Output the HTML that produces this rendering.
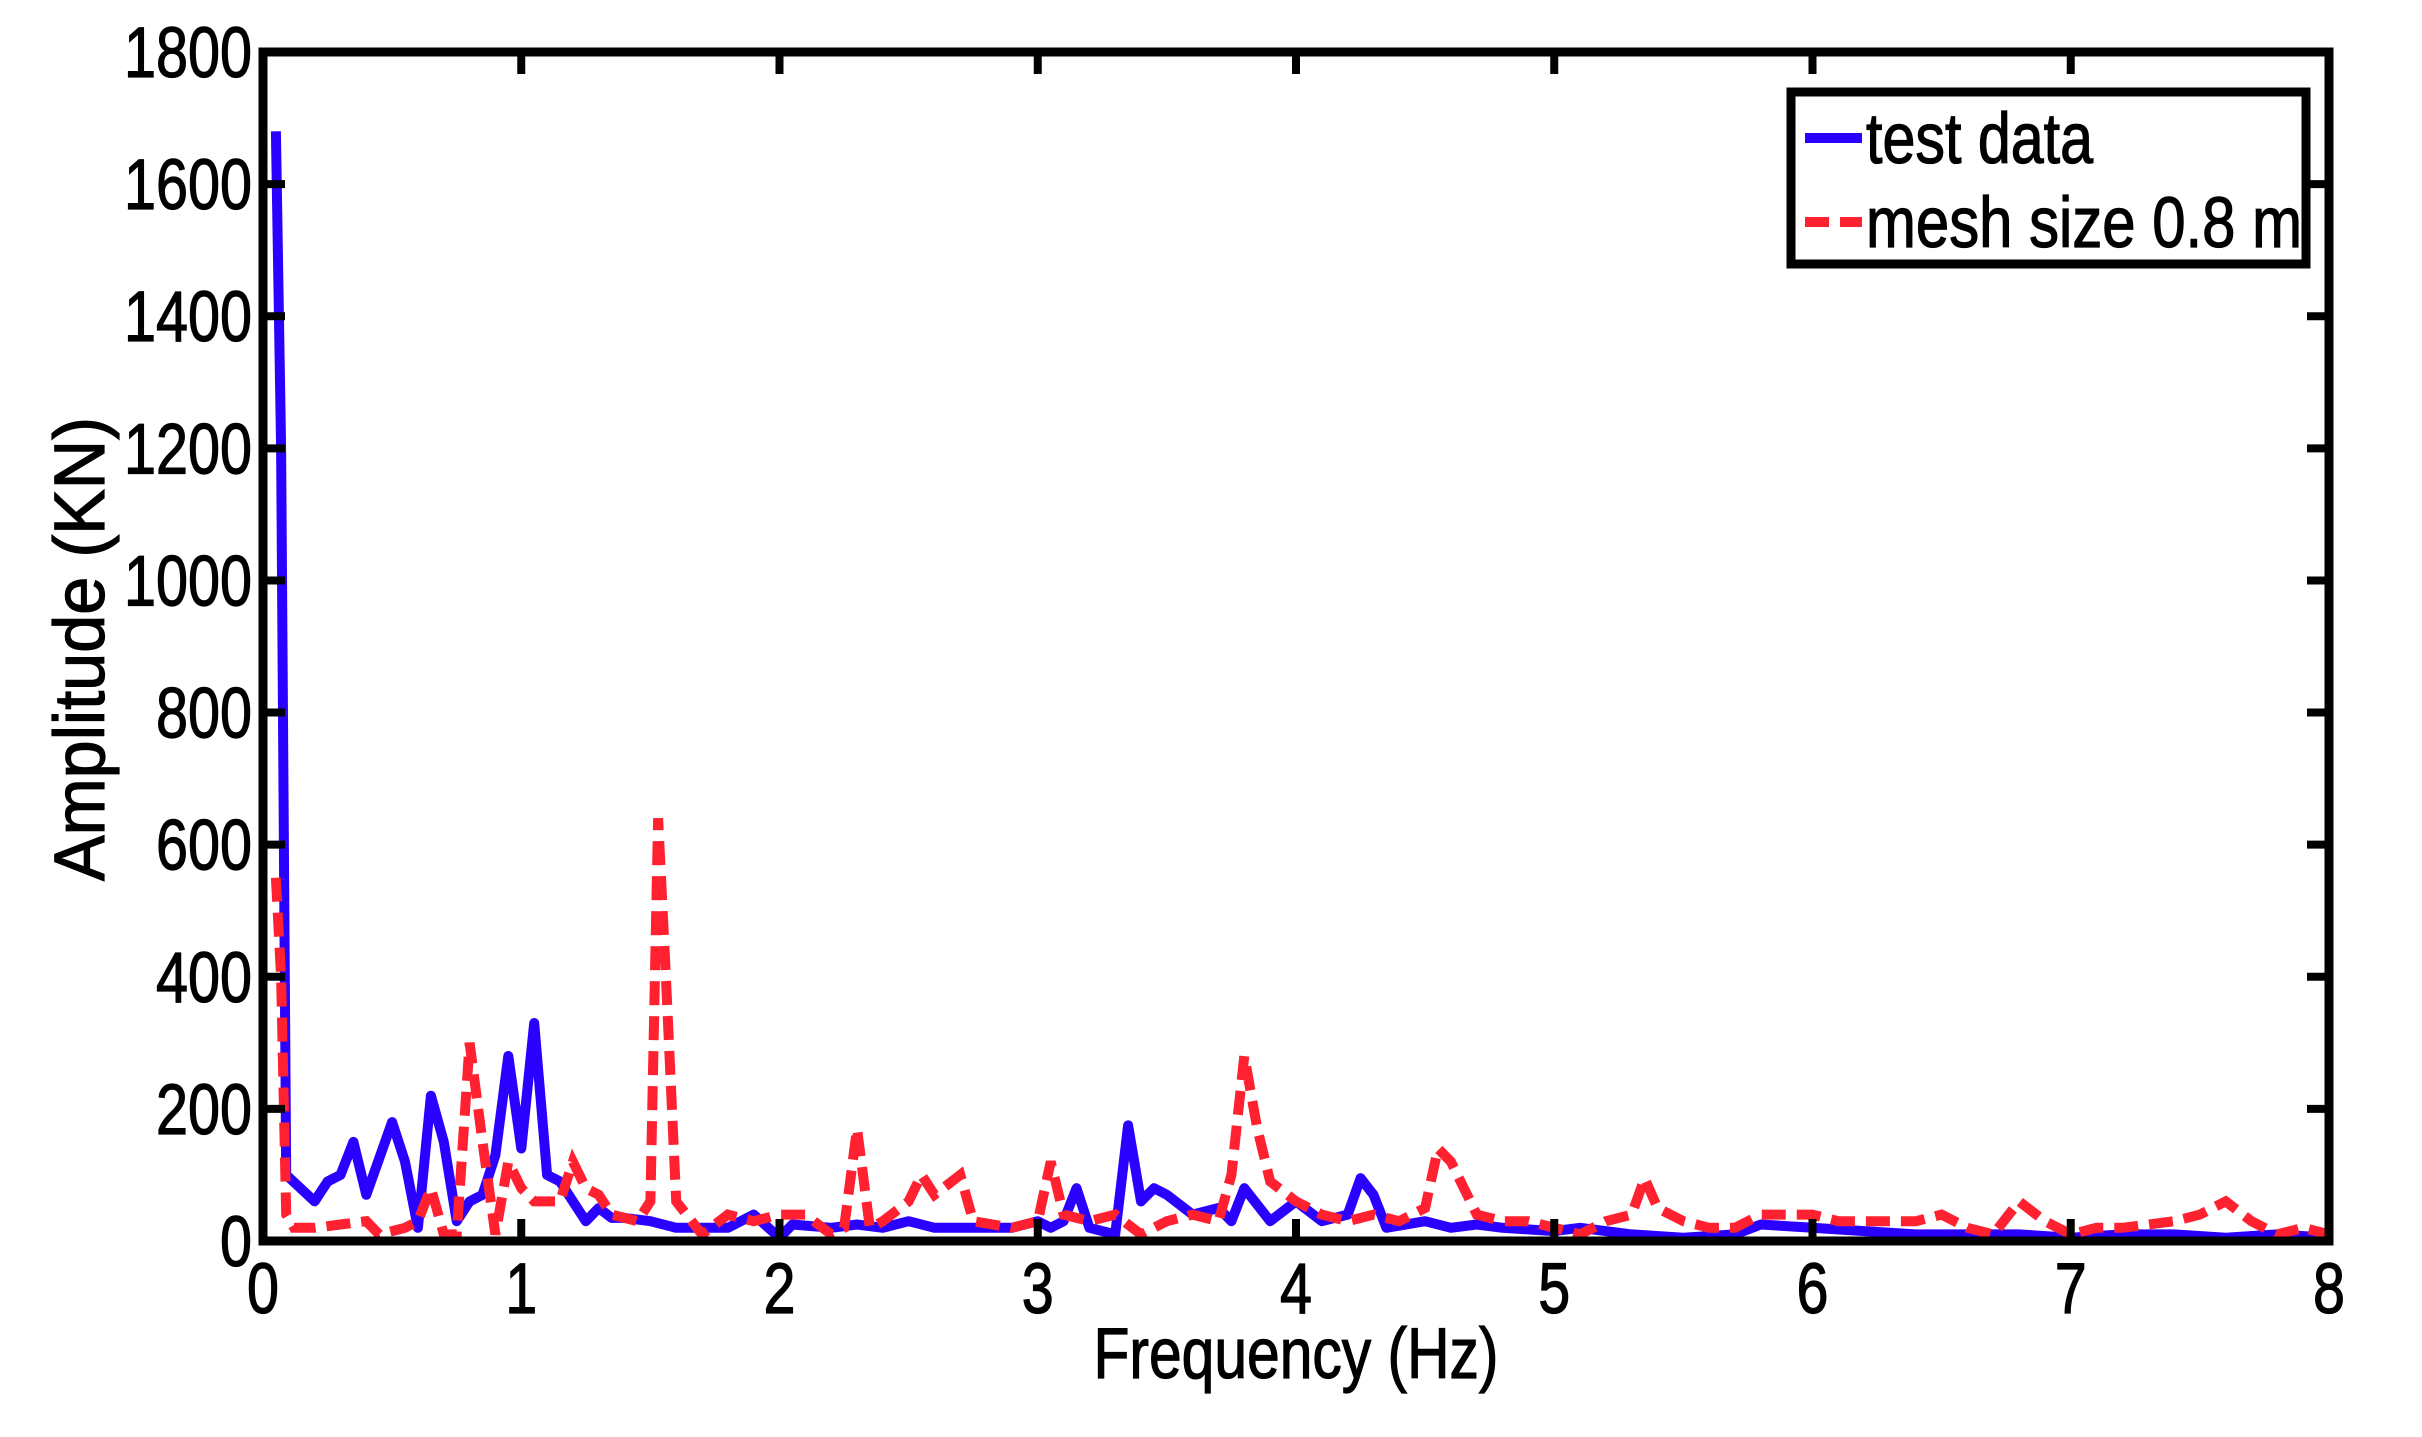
<!DOCTYPE html>
<html><head><meta charset="utf-8"><style>
html,body{margin:0;padding:0;background:#fff;}
svg{display:block;}
text{font-family:"Liberation Sans",Arial,sans-serif;fill:#000;stroke:#000;stroke-width:1.2;}
</style></head><body>
<svg id="s" width="2422" height="1437" viewBox="0 0 2422 1437" xmlns="http://www.w3.org/2000/svg">
<rect width="2422" height="1437" fill="#fff"/>
<g id="data"></g>
<g id="ticks" stroke="#000" stroke-width="8"></g>
<rect x="263" y="52" width="2066" height="1189" fill="none" stroke="#000" stroke-width="9"/>
<g id="labels" font-size="71"></g>
<text x="1296" y="1378" font-size="71" text-anchor="middle" textLength="405" lengthAdjust="spacingAndGlyphs">Frequency (Hz)</text>
<text transform="translate(104,649) rotate(-90)" font-size="71" text-anchor="middle" textLength="464" lengthAdjust="spacingAndGlyphs">Amplitude (KN)</text>
<rect x="1791" y="92" width="515" height="172" fill="#fff" stroke="#000" stroke-width="9"/>
<line x1="1805" y1="138" x2="1862" y2="138" stroke="#2a00ff" stroke-width="10"/>
<line x1="1805" y1="222" x2="1862" y2="222" stroke="#ff2030" stroke-width="10" stroke-dasharray="24,11"/>
<text x="1866" y="163" font-size="71" textLength="227" lengthAdjust="spacingAndGlyphs">test data</text>
<text x="1866" y="247" font-size="71" textLength="436" lengthAdjust="spacingAndGlyphs">mesh size 0.8 m</text>
</svg>
<script>
var X0=263,X1=2329,Y0=1241,Y1=52;
function px(f){return X0+f*(X1-X0)/8;}
function py(a){return Y0-a*(Y0-Y1)/1800;}
var blue=[[0.05,1680],[0.07,1200],[0.09,100],[0.2,60],[0.25,90],[0.3,100],[0.35,150],[0.4,70],[0.5,180],[0.55,120],[0.6,20],[0.65,220],[0.7,150],[0.75,30],[0.8,60],[0.85,70],[0.9,130],[0.95,280],[1.0,140],[1.05,330],[1.1,100],[1.15,90],[1.2,60],[1.25,30],[1.3,50],[1.35,35],[1.4,35],[1.5,30],[1.6,20],[1.7,20],[1.8,20],[1.9,40],[2.0,5],[2.05,25],[2.2,20],[2.3,25],[2.4,20],[2.5,30],[2.6,20],[2.7,20],[2.9,20],[3.0,30],[3.05,20],[3.1,30],[3.15,80],[3.2,20],[3.3,10],[3.35,175],[3.4,60],[3.45,80],[3.5,70],[3.6,40],[3.7,50],[3.75,30],[3.8,80],[3.9,30],[4.0,60],[4.1,30],[4.2,40],[4.25,95],[4.3,70],[4.35,20],[4.5,30],[4.6,20],[4.7,25],[4.8,20],[5.0,15],[5.1,20],[5.3,10],[5.5,5],[5.7,10],[5.8,25],[6.0,20],[6.2,15],[6.4,10],[6.6,10],[6.8,10],[7.0,5],[7.2,10],[7.4,10],[7.6,5],[7.8,10],[8.0,5]];
var red=[[0.05,550],[0.07,400],[0.09,40],[0.12,20],[0.2,20],[0.3,25],[0.4,30],[0.45,10],[0.5,15],[0.55,20],[0.6,30],[0.65,80],[0.7,10],[0.75,10],[0.8,300],[0.85,150],[0.9,10],[0.95,120],[1.0,80],[1.05,60],[1.1,60],[1.15,60],[1.2,120],[1.25,80],[1.3,70],[1.35,40],[1.45,30],[1.5,60],[1.53,640],[1.56,400],[1.6,60],[1.7,10],[1.8,40],[1.9,30],[2.0,40],[2.1,40],[2.2,10],[2.25,20],[2.3,170],[2.35,20],[2.4,30],[2.5,60],[2.55,100],[2.6,70],[2.7,100],[2.75,30],[2.9,20],[3.0,30],[3.05,120],[3.1,40],[3.2,30],[3.3,40],[3.4,10],[3.5,30],[3.6,40],[3.7,30],[3.75,100],[3.8,280],[3.85,170],[3.9,90],[4.0,60],[4.1,40],[4.2,30],[4.3,40],[4.4,30],[4.5,50],[4.55,140],[4.6,120],[4.7,40],[4.8,30],[4.9,30],[5.0,20],[5.1,10],[5.2,30],[5.3,40],[5.35,95],[5.4,50],[5.5,30],[5.6,20],[5.7,20],[5.8,40],[5.9,40],[6.0,40],[6.1,30],[6.2,30],[6.4,30],[6.5,40],[6.6,20],[6.7,10],[6.8,60],[6.9,30],[7.0,10],[7.1,20],[7.2,20],[7.4,30],[7.5,40],[7.6,60],[7.7,30],[7.8,10],[7.9,20],[8.0,10]];
function pts(a){return a.map(function(p){return px(p[0]).toFixed(1)+","+py(p[1]).toFixed(1);}).join(" ");}
var ns="http://www.w3.org/2000/svg";
var d=document.getElementById("data");
var b=document.createElementNS(ns,"polyline");
b.setAttribute("points",pts(blue));b.setAttribute("fill","none");b.setAttribute("stroke","#2a00ff");b.setAttribute("stroke-width","10");b.setAttribute("stroke-linejoin","round");
d.appendChild(b);
var r=document.createElementNS(ns,"polyline");
r.setAttribute("points",pts(red));r.setAttribute("fill","none");r.setAttribute("stroke","#ff2030");r.setAttribute("stroke-width","10");r.setAttribute("stroke-dasharray","24,11");
d.appendChild(r);
var t=document.getElementById("ticks"),L=document.getElementById("labels");
function line(x1,y1,x2,y2){var l=document.createElementNS(ns,"line");l.setAttribute("x1",x1);l.setAttribute("y1",y1);l.setAttribute("x2",x2);l.setAttribute("y2",y2);t.appendChild(l);}
function txt(x,y,s,a,w){var e=document.createElementNS(ns,"text");e.setAttribute("x",x);e.setAttribute("y",y);e.setAttribute("text-anchor",a);e.setAttribute("textLength",w);e.setAttribute("lengthAdjust","spacingAndGlyphs");e.textContent=s;L.appendChild(e);}
for(var i=0;i<=8;i++){var x=px(i);line(x,Y0,x,Y0-22);line(x,Y1,x,Y1+22);txt(x,1313,String(i),"middle",32);}
for(var v=0;v<=1800;v+=200){var y=py(v);line(X0,y,X0+22,y);line(X1,y,X1-22,y);var s=String(v);txt(252,y+25,s,"end",32*s.length);}
</script>
</body></html>
